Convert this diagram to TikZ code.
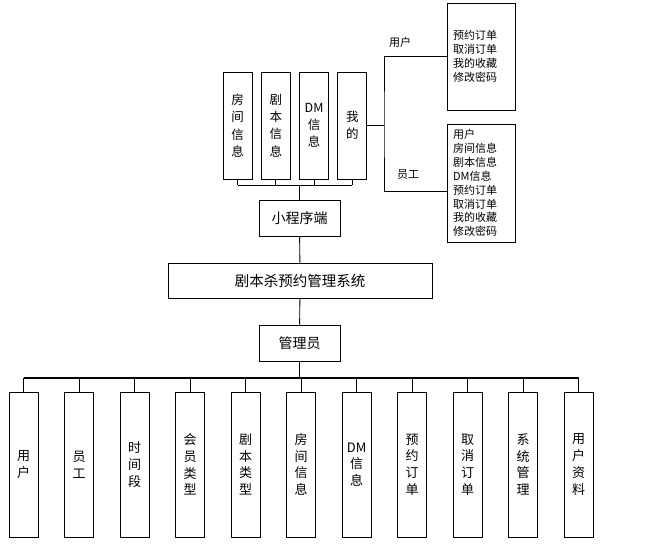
\documentclass[tikz,border=0pt]{standalone}
\usepackage{fontspec}
\setmainfont{Noto Sans CJK SC}
\tikzset{
  box/.style={draw,line width=1pt,inner sep=0pt,align=center},
  vbox/.style={box,minimum width=29pt,font=\fontsize{13}{16.7}\selectfont},
  hbox/.style={box,minimum width=81pt,minimum height=36pt,font=\fontsize{14}{16}\selectfont},
  listbox/.style={box,align=left,inner xsep=6pt,text width=56pt,font=\fontsize{11}{13.9}\selectfont},
  link/.style={line width=.9pt},
  bus/.style={line width=1.7pt}
}
\begin{document}
\begin{tikzpicture}[x=1pt,y=-1pt]
\useasboundingbox (0,0) rectangle (661,544);
% centre column
\node[hbox] (app) at (299.5,218.5) {小程序端};
\node[hbox,minimum width=264pt,minimum height=35pt,font=\fontsize{14.5}{16}\selectfont] (sys) at (300,280.5) {剧本杀预约管理系统};
\node[hbox] (admin) at (299.5,343) {管理员};
\draw[link] (app) -- (sys);
\draw[link] (sys) -- (admin);
% mini program side
\foreach \t [count=\i] in {房\\间\\信\\息,剧\\本\\信\\息,DM\\信\\息,我\\的}
  \node[vbox,minimum height=107pt,font=\fontsize{12.5}{17.3}\selectfont] (m\i) at (237.5+38.3*\i-38.3,125.5) {\t};
\coordinate (top) at (299.5,185);
\foreach \i in {1,...,4}
  \draw[link] (m\i.south) -- (m\i.south |- top);
\draw[link] (m1.south |- top) -- (m4.south |- top);
\draw[link] (top) -- (app.north);
% user and staff
\node[listbox,minimum height=107pt] (r1) at (481,56.5) {预约订单\\取消订单\\我的收藏\\修改密码};
\node[listbox,minimum height=118pt] (r2) at (481,183) {用户\\房间信息\\剧本信息\\DM信息\\预约订单\\取消订单\\我的收藏\\修改密码};
\coordinate (fork) at (384,125);
\draw[link] (m4.east |- fork) -- (fork);
\draw[link] (r1.west) -| (fork) |- ([yshift=-8pt]r2.west);
\node[font=\fontsize{11}{12}\selectfont] (lu) at (400,42) {用户};
\node[font=\fontsize{11}{12}\selectfont] (ls) at (408,175) {员工};
% admin side
\foreach \t [count=\i] in {用\\户,员\\工,时\\间\\段,会\\员\\类\\型,剧\\本\\类\\型,房\\间\\信\\息,DM\\信\\息,预\\约\\订\\单,取\\消\\订\\单,系\\统\\管\\理,用\\户\\资\\料}
  \node[vbox,minimum height=145pt] (a\i) at (23.6+55.5*\i-55.5,464.5) {\t};
\coordinate (low) at (299.5,378);
\foreach \i in {1,...,11}
  \draw[link] (a\i.north) -- (a\i.north |- low);
\draw[bus] (a1.north |- low) -- (a11.north |- low);
\draw[bus] (admin.south) -- (low);
\end{tikzpicture}
\end{document}
